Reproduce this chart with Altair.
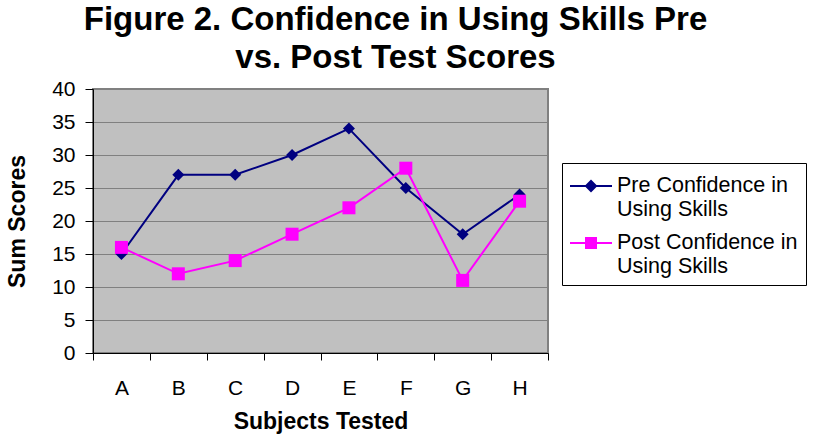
import altair as alt
import pandas as pd

subjects = ["A", "B", "C", "D", "E", "F", "G", "H"]
pre_scores = [15, 27, 27, 30, 34, 25, 18, 24]
post_scores = [16, 12, 14, 18, 22, 28, 11, 23]
series_names = ["Pre Confidence in|Using Skills", "Post Confidence in|Using Skills"]
series_colors = ["#000080", "#FF00FF"]
y_ticks = [0, 5, 10, 15, 20, 25, 30, 35, 40]
title_lines = ["Figure 2. Confidence in Using Skills Pre", "vs. Post Test Scores"]

rows = []
for s, vals in zip(series_names, [pre_scores, post_scores]):
    for subj, v in zip(subjects, vals):
        rows.append({"subject": subj, "series": s, "value": v})
df = pd.DataFrame(rows)

FONT = "Liberation Sans"

x = alt.X(
    "subject:N",
    sort=subjects,
    scale=alt.Scale(type="band", paddingInner=0, paddingOuter=0),
    axis=alt.Axis(
        title="Subjects Tested",
        labelAngle=0,
        tickBand="extent",
        tickSize=7,
        labelPadding=17,
        titlePadding=12,
        grid=False,
    ),
)
y = alt.Y(
    "value:Q",
    scale=alt.Scale(domain=[0, 40], nice=False, zero=True),
    axis=alt.Axis(
        title="Sum Scores",
        values=y_ticks,
        tickSize=8,
        labelPadding=10,
        titlePadding=22,
        grid=True,
    ),
)

base = alt.Chart(df)

def series_layers(name, color, shape, size):
    d = base.transform_filter(alt.datum.series == name)
    line = d.mark_line(color=color, strokeWidth=2).encode(x=x, y=y)
    pts = d.mark_point(filled=True, shape=shape, size=size, color=color, opacity=1).encode(x=x, y=y)
    return [line, pts]

pre_path = "M-1,-0.067H1.8V0.067H-1Z M0.4,-0.43L0.83,0L0.4,0.43L-0.03,0Z"
post_path = "M-1,-0.067H1.8V0.067H-1Z M0,-0.4H0.8V0.4H0Z"

legend_spec = alt.Legend(
    title=None,
    orient="none",
    legendX=469,
    legendY=74,
    labelExpr="split(datum.label, '|')",
    labelFontSize=21.5,
    labelFont=FONT,
    labelColor="black",
    labelLimit=400,
    labelOffset=17,
    symbolSize=900,
    symbolStrokeWidth=0,
    symbolOpacity=1,
    padding=8,
    rowPadding=8,
    strokeColor="black",
    fillColor="white",
)

legend_layer = base.transform_filter("false").mark_point(filled=True, opacity=1).encode(
    x=x,
    y=y,
    color=alt.Color("series:N", scale=alt.Scale(domain=series_names, range=series_colors), legend=legend_spec),
    shape=alt.Shape("series:N", scale=alt.Scale(domain=series_names, range=[pre_path, post_path]), legend=legend_spec),
)

layers = (
    series_layers(series_names[0], series_colors[0], "diamond", 144)
    + series_layers(series_names[1], series_colors[1], "square", 169)
    + [legend_layer]
)

chart = alt.layer(*layers).properties(
    width=455,
    height=264,
    autosize=alt.AutoSizeParams(type="none"),
    padding={"left": 93, "top": 89, "right": 268, "bottom": 85},
    title=alt.TitleParams(
        text=title_lines,
        fontSize=33,
        font=FONT,
        fontWeight="bold",
        color="black",
        anchor="middle",
        dx=75,
        offset=3,
        lineHeight=38,
    ),
    background="white",
).configure_view(
    fill="#C0C0C0", stroke="#808080", strokeWidth=2
).configure_axis(
    labelFont=FONT,
    labelFontSize=21,
    labelColor="black",
    titleFont=FONT,
    titleFontSize=23,
    titleFontWeight="bold",
    titleColor="black",
    domainColor="black",
    domainWidth=1,
    tickColor="black",
    tickWidth=1,
    gridColor="#808080",
    gridWidth=1,
    gridOpacity=1,
)

chart.save("out.html", embed_options={"renderer": "svg", "actions": False})
